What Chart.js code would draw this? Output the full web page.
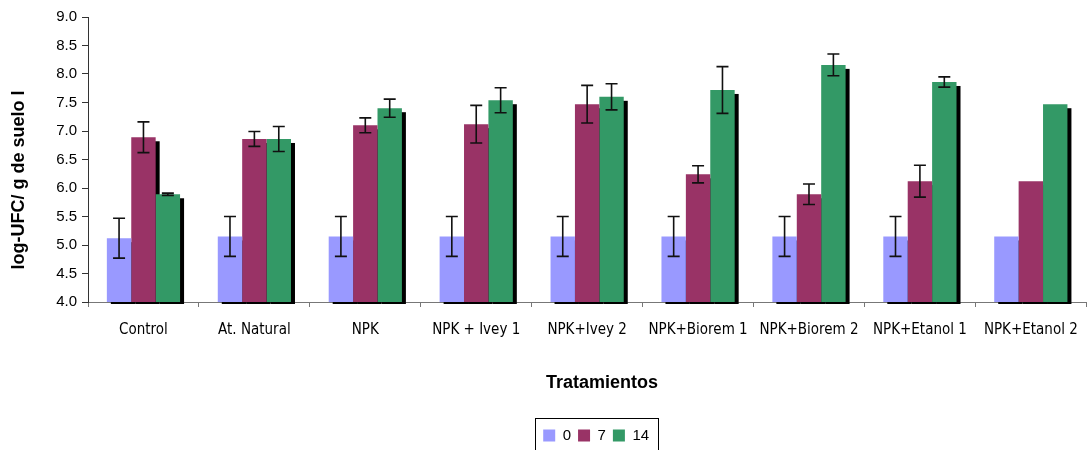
<!DOCTYPE html>
<html>
<head>
<meta charset="utf-8">
<script src="https://cdn.jsdelivr.net/npm/chart.js@4/dist/chart.umd.min.js"></script>
<style>
  html, body { margin: 0; padding: 0; background: #fff; }
  #wrap { width: 1092px; height: 450px; }
</style>
</head>
<body>
<div id="wrap"><canvas id="c" width="1092" height="450"></canvas></div>
<script>
// Treatments on the category axis
const categories = ['Control', 'At. Natural', 'NPK', 'NPK + Ivey 1', 'NPK+Ivey 2',
                    'NPK+Biorem 1', 'NPK+Biorem 2', 'NPK+Etanol 1', 'NPK+Etanol 2'];
// Sampling days (series names)
const seriesNames = ['0', '7', '14'];
// Mean log-UFC per gram of soil, per sampling day
const day0  = [5.12, 5.15, 5.15, 5.15, 5.15, 5.15, 5.15, 5.15, 5.15];
const day7  = [6.89, 6.86, 7.10, 7.12, 7.47, 6.24, 5.89, 6.12, 6.12];
const day14 = [5.89, 6.86, 7.40, 7.54, 7.60, 7.72, 8.16, 7.86, 7.47];
// Standard deviations (half-length of the error bars)
const err0  = [0.35, 0.35, 0.35, 0.35, 0.35, 0.35, 0.35, 0.35, 0];
const err7  = [0.27, 0.13, 0.13, 0.33, 0.33, 0.15, 0.18, 0.28, 0];
const err14 = [0.02, 0.22, 0.16, 0.22, 0.23, 0.41, 0.19, 0.09, 0];
// Value axis range
const yMin = 4.0, yMax = 9.0, yStep = 0.5;
const yTitle = 'log-UFC/ g de suelo l';
const xTitle = 'Tratamientos';

const colors = ['#9999FF', '#993366', '#339966'];
const values = [day0, day7, day14];
const errors = [err0, err7, err14];

// Black drop shadow behind every bar
const barShadow = {
  id: 'barShadow',
  beforeDatasetsDraw(chart) {
    const ctx = chart.ctx;
    const floor = chart.chartArea.bottom;
    ctx.save();
    ctx.fillStyle = '#000';
    chart.data.datasets.forEach((ds, i) => {
      chart.getDatasetMeta(i).data.forEach(bar => {
        const p = bar.getProps(['x', 'y', 'base', 'width'], true);
        const bottom = Math.min(p.base, floor) + 2;
        ctx.fillRect(p.x - p.width / 2 + 4, p.y + 4, p.width, bottom - (p.y + 4));
      });
    });
    ctx.restore();
  }
};

// Error bars (mean ± sd) with caps
const errorBars = {
  id: 'errorBars',
  afterDatasetsDraw(chart) {
    const ctx = chart.ctx, ys = chart.scales.y;
    ctx.save();
    ctx.strokeStyle = '#111';
    ctx.lineWidth = 1.6;
    chart.data.datasets.forEach((ds, i) => {
      chart.getDatasetMeta(i).data.forEach((bar, j) => {
        const e = ds.errors[j];
        if (!e) return;
        const v = ds.data[j];
        const x = bar.x;
        const yTop = ys.getPixelForValue(v + e);
        const yBot = ys.getPixelForValue(v - e);
        const cap = 6;
        ctx.beginPath();
        ctx.moveTo(x, yTop); ctx.lineTo(x, yBot);
        ctx.moveTo(x - cap, yTop); ctx.lineTo(x + cap, yTop);
        ctx.moveTo(x - cap, yBot); ctx.lineTo(x + cap, yBot);
        ctx.stroke();
      });
    });
    ctx.restore();
  }
};

// Legend placement, frame around the legend, and axis titles
const frameAndTitles = {
  id: 'frameAndTitles',
  afterLayout(chart) {
    const lg = chart.legend;
    lg.left += 9; lg.right += 9;
    lg.top += 3; lg.bottom += 3;
  },
  afterDraw(chart) {
    const ctx = chart.ctx;
    ctx.save();
    const hb = chart.legend.legendHitBoxes;
    if (hb && hb.length) {
      const first = hb[0], last = hb[hb.length - 1];
      const left = Math.round(first.left - 8) + 0.5;
      const right = Math.round(last.left + last.width + 9) + 0.5;
      const cy = first.top + first.height / 2;
      ctx.strokeStyle = '#000';
      ctx.lineWidth = 1;
      ctx.strokeRect(left, Math.round(cy - 18) + 0.5, right - left, 40);
    }
    ctx.fillStyle = '#000';
    ctx.font = 'bold 18px "Liberation Sans", Arial, sans-serif';
    ctx.textAlign = 'center';
    ctx.textBaseline = 'middle';
    ctx.fillText(xTitle, 602, 383);
    ctx.translate(19, 180);
    ctx.rotate(-Math.PI / 2);
    ctx.fillText(yTitle, 0, 0);
    ctx.restore();
  }
};

new Chart(document.getElementById('c'), {
  type: 'bar',
  data: {
    labels: categories,
    datasets: seriesNames.map((name, i) => ({
      label: name,
      data: values[i],
      errors: errors[i],
      backgroundColor: colors[i],
      borderWidth: 0,
      barPercentage: 1.0,
      categoryPercentage: 0.66
    }))
  },
  options: {
    responsive: false,
    devicePixelRatio: 1,
    animation: false,
    layout: { padding: { top: 17, right: 4, left: 0, bottom: 0 } },
    plugins: {
      tooltip: { enabled: false },
      legend: {
        position: 'bottom',
        fullSize: false,
        labels: {
          boxWidth: 12,
          boxHeight: 12,
          padding: 7,
          color: '#000',
          font: { family: '"Liberation Sans", Arial, sans-serif', size: 15 }
        }
      }
    },
    scales: {
      x: {
        grid: { offset: true, drawOnChartArea: false, tickLength: 5, color: '#777' },
        border: { color: '#777' },
        ticks: {
          color: '#000',
          padding: 14,
          maxRotation: 0,
          autoSkip: false,
          font: { family: '"Liberation Sans Narrow", "DejaVu Sans Condensed", "Liberation Sans", Arial, sans-serif', size: 15 }
        },
        afterFit(scale) { scale.height = 116; }
      },
      y: {
        min: yMin,
        max: yMax,
        grid: { drawOnChartArea: false, tickLength: 6, color: '#333' },
        border: { color: '#333' },
        ticks: {
          stepSize: yStep,
          color: '#000',
          padding: 5,
          font: { family: '"Liberation Sans", Arial, sans-serif', size: 15 },
          callback: v => Number(v).toFixed(1)
        },
        afterFit(scale) { scale.width = 88; }
      }
    }
  },
  plugins: [barShadow, errorBars, frameAndTitles]
});
</script>
</body>
</html>
